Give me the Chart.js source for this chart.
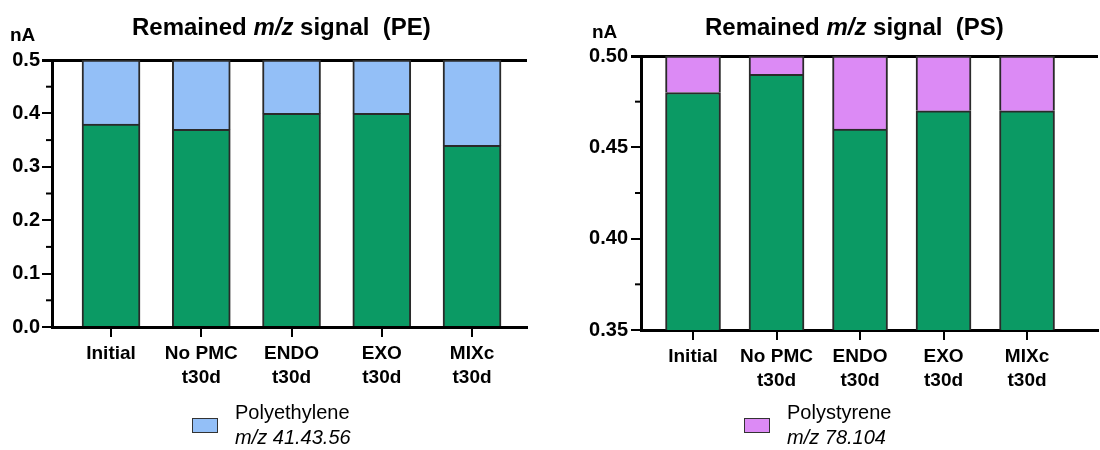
<!DOCTYPE html>
<html>
<head>
<meta charset="utf-8">
<script src="https://cdn.jsdelivr.net/npm/chart.js@4.4.1/dist/chart.umd.min.js"></script>
<style>
    body { margin: 0; background: #fff; font-family: "Liberation Sans", Arial, sans-serif; color: #000; }
    #wrap { position: relative; width: 1100px; height: 450px; overflow: hidden; }
    .box { position: absolute; top: 0; width: 550px; height: 450px; }
    .title { position: absolute; top: 15px; font-weight: bold; font-size: 24px; line-height: 24px; white-space: pre; }
    .unit { position: absolute; top: 25px; font-weight: bold; font-size: 19px; line-height: 19px; }
    .leg-box { position: absolute; top: 418px; width: 24px; height: 13px; border: 1.5px solid #333; }
    .leg-text { position: absolute; top: 400px; font-size: 20px; line-height: 25px; }
    canvas { position: absolute; left: 0; top: 0; }
</style>
</head>
<body>
<div id="wrap">
    <div class="box" style="left:0">
        <canvas id="chartPE" width="550" height="450"></canvas>
        <div class="title" style="left:132px">Remained <i>m/z</i> signal&nbsp; (PE)</div>
        <div class="unit" style="left:10px">nA</div>
        <div class="leg-box" style="left:192px; background:#93bff7"></div>
        <div class="leg-text" style="left:235px">Polyethylene<br><i>m/z 41.43.56</i></div>
    </div>
    <div class="box" style="left:550px">
        <canvas id="chartPS" width="550" height="450"></canvas>
        <div class="title" style="left:155px">Remained <i>m/z</i> signal&nbsp; (PS)</div>
        <div class="unit" style="left:42px; top:22px">nA</div>
        <div class="leg-box" style="left:194px; background:#dc8af5"></div>
        <div class="leg-text" style="left:237px">Polystyrene<br><i>m/z 78.104</i></div>
    </div>
</div>
<script>
// kategori sampel (sumbu x)
const categories = ["Initial", ["No PMC", "t30d"], ["ENDO", "t30d"], ["EXO", "t30d"], ["MIXc", "t30d"]];

// PE: bagian hijau (sisa sinyal) dan bagian biru (polyethylene)
const peRemained = [0.38, 0.37, 0.40, 0.40, 0.34];
const pePolyethylene = [0.12, 0.13, 0.10, 0.10, 0.16];

// PS: bagian hijau dan bagian ungu (polystyrene)
const psRemained = [0.48, 0.49, 0.46, 0.47, 0.47];
const psPolystyrene = [0.02, 0.01, 0.04, 0.03, 0.03];

// tick sumbu y
const peMajorTicks = [0.0, 0.1, 0.2, 0.3, 0.4, 0.5];
const peMinorTicks = [0.05, 0.15, 0.25, 0.35, 0.45];
const psMajorTicks = [0.35, 0.40, 0.45, 0.50];
const psMinorTicks = [0.375, 0.425, 0.475];

const GREEN = "#0b9a64";
const BLUE = "#93bff7";
const PURPLE = "#dc8af5";
const FONT = "'Liberation Sans', Arial, sans-serif";

// gambar tick kecil tanpa label di sumbu y
const minorTicksPlugin = {
    id: "minorTicks",
    afterDraw(chart, args, opts) {
        let y = chart.scales.y;
        let ctx = chart.ctx;
        ctx.save();
        ctx.strokeStyle = "#000";
        ctx.lineWidth = 2;
        opts.values.forEach((v) => {
            let py = y.getPixelForValue(v);
            ctx.beginPath();
            ctx.moveTo(y.right - 6, py);
            ctx.lineTo(y.right, py);
            ctx.stroke();
        });
        ctx.restore();
    },
};

function makeChart(id, s) {
    let ctx = document.getElementById(id).getContext("2d");
    let yMax = s.major[s.major.length - 1];

    return new Chart(ctx, {
        type: "bar",
        data: {
            datasets: [
                {
                    label: "Remained",
                    data: s.base.map((v, i) => ({ x: i, y: v })),
                    backgroundColor: GREEN,
                    borderColor: "#2a2a2a",
                    borderWidth: 2,
                    barThickness: s.barWidth,
                },
                {
                    label: s.name,
                    data: s.top.map((v, i) => ({ x: i, y: v })),
                    backgroundColor: s.color,
                    borderColor: "#2a2a2a",
                    borderWidth: 2,
                    barThickness: s.barWidth,
                },
            ],
        },
        options: {
            responsive: false,
            animation: false,
            devicePixelRatio: 1,
            layout: { padding: { top: s.padTop, right: s.padRight, left: 0, bottom: 0 } },
            plugins: {
                legend: { display: false },
                tooltip: { enabled: false },
                minorTicks: { values: s.minor },
            },
            scales: {
                x: {
                    type: "linear",
                    stacked: true,
                    offset: false,
                    min: s.xMin,
                    max: s.xMax,
                    afterBuildTicks: (scale) => {
                        scale.ticks = categories.map((c, i) => ({ value: i }));
                    },
                    afterFit: (scale) => {
                        scale.height = s.xHeight;
                    },
                    ticks: {
                        autoSkip: false,
                        maxRotation: 0,
                        padding: 5,
                        color: "#000",
                        font: { family: FONT, size: 19, weight: "bold", lineHeight: 1.26 },
                        callback: (v) => categories[v],
                    },
                    grid: { offset: false, drawOnChartArea: false, color: "#000", lineWidth: 2, tickLength: 10 },
                    border: { color: "#000", width: 3 },
                },
                y: {
                    stacked: true,
                    min: s.major[0],
                    max: yMax,
                    afterBuildTicks: (scale) => {
                        scale.ticks = s.major.map((v) => ({ value: v }));
                    },
                    afterFit: (scale) => {
                        scale.width = s.yWidth;
                    },
                    ticks: {
                        padding: s.yPad,
                        color: "#000",
                        font: { family: FONT, size: 20, weight: "bold" },
                        callback: (v) => v.toFixed(s.digits),
                    },
                    grid: {
                        color: (c) => (c.tick && Math.abs(c.tick.value - yMax) < 1e-9 ? "#000" : "rgba(0,0,0,0)"),
                        tickColor: "#000",
                        lineWidth: (c) => (c.tick && Math.abs(c.tick.value - yMax) < 1e-9 ? 3 : 2),
                        tickLength: 10,
                    },
                    border: { color: "#000", width: 3 },
                },
            },
        },
        plugins: [minorTicksPlugin],
    });
}

// Diagram PE
makeChart("chartPE", {
    name: "Polyethylene",
    base: peRemained,
    top: pePolyethylene,
    color: BLUE,
    major: peMajorTicks,
    minor: peMinorTicks,
    digits: 1,
    barWidth: 58,
    padTop: 60,
    padRight: 23,
    yWidth: 52,
    xHeight: 123,
    yPad: 2,
    xMin: -0.654,
    xMax: 4.609,
});

// Diagram PS
makeChart("chartPS", {
    name: "Polystyrene",
    base: psRemained,
    top: psPolystyrene,
    color: PURPLE,
    major: psMajorTicks,
    minor: psMinorTicks,
    digits: 2,
    barWidth: 55,
    padTop: 56,
    padRight: 2,
    yWidth: 91,
    xHeight: 120,
    yPad: 3,
    xMin: -0.623,
    xMax: 4.85,
});
</script>
</body>
</html>
